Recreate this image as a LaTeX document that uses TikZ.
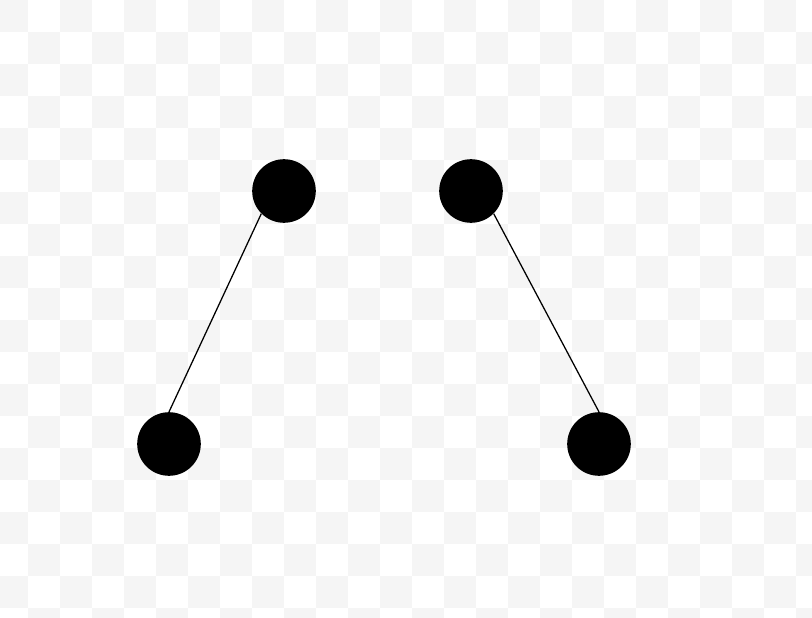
\documentclass[tikz,border=0pt]{standalone}
\usepackage{tikz}
\definecolor{checker}{HTML}{F5F5F5}

\begin{document}
\begin{tikzpicture}[
  x=0.025cm, y=-0.025cm,
  vertex/.style={circle, fill=black, draw=none, inner sep=0pt,
    minimum size=1.59cm},
  edge/.style={draw=black, line width=0.9pt}
]
  \useasboundingbox (0,0) rectangle (812,618);
  % backdrop
  \begin{scope}
    \clip (0,0) rectangle (812,618);
    \fill[white] (0,0) rectangle (812,618);
    \foreach \r in {0,...,19}
      \foreach \c in {0,...,25} {
        \pgfmathtruncatemacro{\cellpar}{mod(\r+\c,2)}
        \ifnum\cellpar=0
          \fill[checker] (-4+32*\c,32*\r) rectangle ++(32,32);
        \fi
      };
  \end{scope}

  \node[vertex] (topL) at (284,191) {};
  \node[vertex] (topR) at (471,191) {};
  \node[vertex] (botL) at (169,444) {};
  \node[vertex] (botR) at (599,444) {};

  \draw[edge] (topL.south west) -- (botL.north);
  \draw[edge] (topR.south east) -- (botR.north);
\end{tikzpicture}
\end{document}
